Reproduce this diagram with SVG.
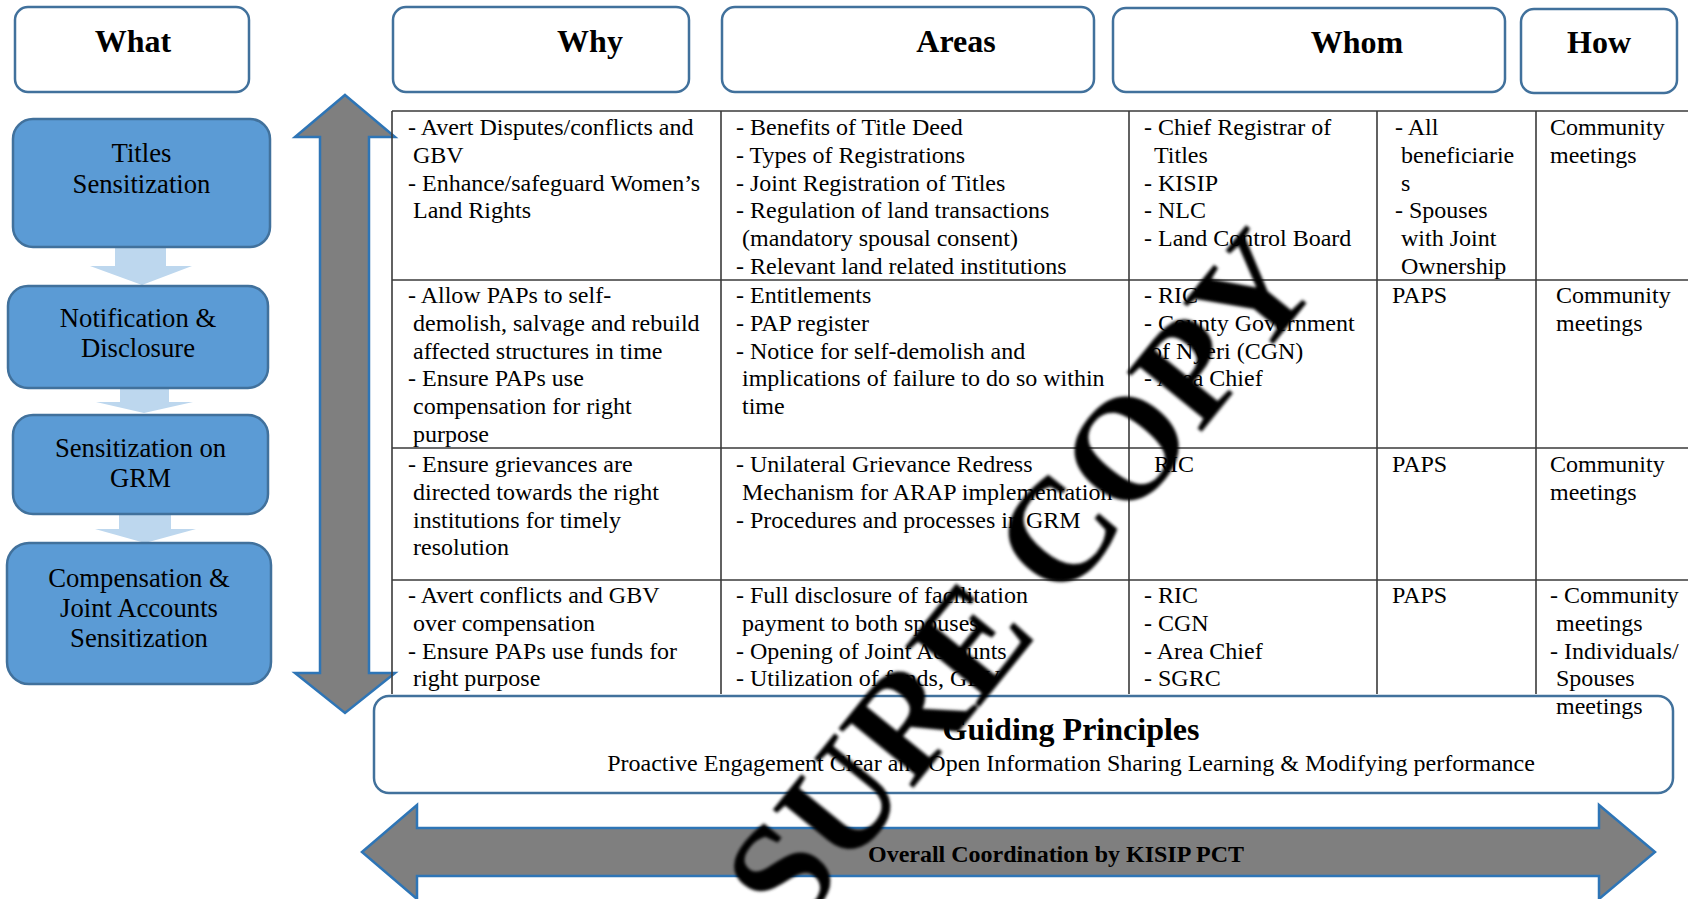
<svg xmlns="http://www.w3.org/2000/svg" width="1688" height="899" viewBox="0 0 1688 899">
  <defs>
    <style>
      .hdr { fill: #ffffff; stroke: #41719C; stroke-width: 2.5; }
      .hdr-t { font-family: "Liberation Serif", "Times New Roman", serif; font-weight: bold; font-size: 32px; fill: #000; text-anchor: middle; }
      .step { fill: #5B9BD5; stroke: #41719C; stroke-width: 2.5; }
      .step-t { font-family: "Liberation Serif", "Times New Roman", serif; font-size: 26.7px; fill: #000; text-anchor: middle; }
      .flow { fill: #BDD7EE; stroke: none; }
      .big { fill: #7F7F7F; stroke: #2E75B6; stroke-width: 2.5; stroke-linejoin: miter; }
      .grid { stroke: #3a3a3a; stroke-width: 1.6; fill: none; }
      .cell { font-family: "Liberation Serif", "Times New Roman", serif; font-size: 24px; fill: #000; }
      .gp-t { font-family: "Liberation Serif", "Times New Roman", serif; font-weight: bold; font-size: 32px; fill: #000; text-anchor: middle; }
      .gp-s { font-family: "Liberation Serif", "Times New Roman", serif; font-size: 24px; fill: #000; text-anchor: middle; }
      .coord { font-family: "Liberation Serif", "Times New Roman", serif; font-weight: bold; font-size: 24px; fill: #000; text-anchor: middle; }
      .mark { font-family: "Liberation Serif", "Times New Roman", serif; font-weight: bold; font-size: 146px; fill: #000; }
    </style>
    <filter id="soft" x="-10%" y="-10%" width="120%" height="120%">
      <feGaussianBlur stdDeviation="1.4"/>
    </filter>
  </defs>

  <rect width="1688" height="899" fill="#ffffff"/>

  <!-- column headers -->
  <g id="hdr-what">
    <rect class="hdr" x="15" y="7" width="234" height="85" rx="13"/>
    <text class="hdr-t" x="133" y="52">What</text>
  </g>
  <g id="hdr-why">
    <rect class="hdr" x="393" y="7" width="296" height="85" rx="13"/>
    <text class="hdr-t" x="590" y="52">Why</text>
  </g>
  <g id="hdr-areas">
    <rect class="hdr" x="722" y="7" width="372" height="85" rx="13"/>
    <text class="hdr-t" x="956" y="52">Areas</text>
  </g>
  <g id="hdr-whom">
    <rect class="hdr" x="1113" y="8" width="392" height="84" rx="13"/>
    <text class="hdr-t" x="1357" y="53">Whom</text>
  </g>
  <g id="hdr-how">
    <rect class="hdr" x="1521" y="9" width="156" height="84" rx="13"/>
    <text class="hdr-t" x="1599" y="53">How</text>
  </g>

  <!-- connectors: step flow arrows and the two double arrows -->
  <g id="connectors">
    <polygon class="flow" points="115,246 166,246 166,266 192,266 142,285 90,266 115,266"/>
    <polygon class="flow" points="120,388 169,388 169,402 193,402 144,413 96,402 120,402"/>
    <polygon class="flow" points="119,514 171,514 171,529 196,529 145,543 95,529 119,529"/>
    <polygon class="big" points="345,95 395,137 369,137 369,673 395,673 345,713 295,673 320,673 320,137 295,137"/>
    <polygon class="big" points="362,852 417,805 417,828 1599,828 1599,805 1655,852 1599,899 1599,876 417,876 417,899"/>
  </g>

  <!-- process steps -->
  <g id="step-titles">
    <rect class="step" x="13" y="119" width="257" height="128" rx="20"/>
    <text class="step-t" x="141.5" y="162">Titles</text>
    <text class="step-t" x="141.5" y="193">Sensitization</text>
  </g>
  <g id="step-notification">
    <rect class="step" x="8" y="286" width="260" height="102" rx="20"/>
    <text class="step-t" x="138" y="327">Notification &amp;</text>
    <text class="step-t" x="138" y="357">Disclosure</text>
  </g>
  <g id="step-grm">
    <rect class="step" x="13" y="415" width="255" height="99" rx="20"/>
    <text class="step-t" x="140.5" y="457">Sensitization on</text>
    <text class="step-t" x="140.5" y="487">GRM</text>
  </g>
  <g id="step-compensation">
    <rect class="step" x="7" y="543" width="264" height="141" rx="22"/>
    <text class="step-t" x="139" y="587">Compensation &amp;</text>
    <text class="step-t" x="139" y="617">Joint Accounts</text>
    <text class="step-t" x="139" y="647">Sensitization</text>
  </g>

  <!-- guiding principles banner -->
  <g id="guiding">
    <rect x="374" y="696" width="1299" height="97" rx="15" fill="#ffffff" stroke="#41719C" stroke-width="2.5"/>
    <text class="gp-t" x="1071" y="740">Guiding Principles</text>
    <text class="gp-s" x="1071" y="771">Proactive Engagement Clear and Open Information Sharing Learning &amp; Modifying performance</text>
  </g>

  <!-- activity matrix -->
  <g id="table">
    <g class="grid">
      <line x1="392" y1="111" x2="1688" y2="111"/>
      <line x1="392" y1="280" x2="1688" y2="280"/>
      <line x1="392" y1="448" x2="1688" y2="448"/>
      <line x1="392" y1="580" x2="1688" y2="580"/>
      <line x1="392" y1="111" x2="392" y2="694"/>
      <line x1="721" y1="111" x2="721" y2="694"/>
      <line x1="1129" y1="111" x2="1129" y2="694"/>
      <line x1="1377" y1="111" x2="1377" y2="694"/>
      <line x1="1536" y1="111" x2="1536" y2="694"/>
    </g>

    <!-- row 1 -->
    <text class="cell" y="135">
      <tspan x="408">- Avert Disputes/conflicts and</tspan>
      <tspan x="413" dy="27.8">GBV</tspan>
      <tspan x="408" dy="27.8">- Enhance/safeguard Women’s</tspan>
      <tspan x="413" dy="27.8">Land Rights</tspan>
    </text>
    <text class="cell" y="135">
      <tspan x="736">- Benefits of Title Deed</tspan>
      <tspan x="736" dy="27.8">- Types of Registrations</tspan>
      <tspan x="736" dy="27.8">- Joint Registration of Titles</tspan>
      <tspan x="736" dy="27.8">- Regulation of land transactions</tspan>
      <tspan x="742" dy="27.8">(mandatory spousal consent)</tspan>
      <tspan x="736" dy="27.8">- Relevant land related institutions</tspan>
    </text>
    <text class="cell" y="135">
      <tspan x="1144">- Chief Registrar of</tspan>
      <tspan x="1154" dy="27.8">Titles</tspan>
      <tspan x="1144" dy="27.8">- KISIP</tspan>
      <tspan x="1144" dy="27.8">- NLC</tspan>
      <tspan x="1144" dy="27.8">- Land Control Board</tspan>
    </text>
    <text class="cell" y="135">
      <tspan x="1395">- All</tspan>
      <tspan x="1401" dy="27.8">beneficiarie</tspan>
      <tspan x="1401" dy="27.8">s</tspan>
      <tspan x="1395" dy="27.8">- Spouses</tspan>
      <tspan x="1401" dy="27.8">with Joint</tspan>
      <tspan x="1401" dy="27.8">Ownership</tspan>
    </text>
    <text class="cell" y="135">
      <tspan x="1550">Community</tspan>
      <tspan x="1550" dy="27.8">meetings</tspan>
    </text>

    <!-- row 2 -->
    <text class="cell" y="303">
      <tspan x="408">- Allow PAPs to self-</tspan>
      <tspan x="413" dy="27.8">demolish, salvage and rebuild</tspan>
      <tspan x="413" dy="27.8">affected structures in time</tspan>
      <tspan x="408" dy="27.8">- Ensure PAPs use</tspan>
      <tspan x="413" dy="27.8">compensation for right</tspan>
      <tspan x="413" dy="27.8">purpose</tspan>
    </text>
    <text class="cell" y="303">
      <tspan x="736">- Entitlements</tspan>
      <tspan x="736" dy="27.8">- PAP register</tspan>
      <tspan x="736" dy="27.8">- Notice for self-demolish and</tspan>
      <tspan x="742" dy="27.8">implications of failure to do so within</tspan>
      <tspan x="742" dy="27.8">time</tspan>
    </text>
    <text class="cell" y="303">
      <tspan x="1144">- RIC</tspan>
      <tspan x="1144" dy="27.8">- County Government</tspan>
      <tspan x="1150" dy="27.8">of Nyeri (CGN)</tspan>
      <tspan x="1144" dy="27.8">- Area Chief</tspan>
    </text>
    <text class="cell" x="1392" y="303">PAPS</text>
    <text class="cell" y="303">
      <tspan x="1556">Community</tspan>
      <tspan x="1556" dy="27.8">meetings</tspan>
    </text>

    <!-- row 3 -->
    <text class="cell" y="472">
      <tspan x="408">- Ensure grievances are</tspan>
      <tspan x="413" dy="27.8">directed towards the right</tspan>
      <tspan x="413" dy="27.8">institutions for timely</tspan>
      <tspan x="413" dy="27.8">resolution</tspan>
    </text>
    <text class="cell" y="472">
      <tspan x="736">- Unilateral Grievance Redress</tspan>
      <tspan x="742" dy="27.8">Mechanism for ARAP implementation</tspan>
      <tspan x="736" dy="27.8">- Procedures and processes in GRM</tspan>
    </text>
    <text class="cell" x="1154" y="472">RIC</text>
    <text class="cell" x="1392" y="472">PAPS</text>
    <text class="cell" y="472">
      <tspan x="1550">Community</tspan>
      <tspan x="1550" dy="27.8">meetings</tspan>
    </text>

    <!-- row 4 -->
    <text class="cell" y="603">
      <tspan x="408">- Avert conflicts and GBV</tspan>
      <tspan x="413" dy="27.8">over compensation</tspan>
      <tspan x="408" dy="27.8">- Ensure PAPs use funds for</tspan>
      <tspan x="413" dy="27.8">right purpose</tspan>
    </text>
    <text class="cell" y="603">
      <tspan x="736">- Full disclosure of facilitation</tspan>
      <tspan x="742" dy="27.8">payment to both spouses</tspan>
      <tspan x="736" dy="27.8">- Opening of Joint Accounts</tspan>
      <tspan x="736" dy="27.8">- Utilization of funds, GBV</tspan>
    </text>
    <text class="cell" y="603">
      <tspan x="1144">- RIC</tspan>
      <tspan x="1144" dy="27.8">- CGN</tspan>
      <tspan x="1144" dy="27.8">- Area Chief</tspan>
      <tspan x="1144" dy="27.8">- SGRC</tspan>
    </text>
    <text class="cell" x="1392" y="603">PAPS</text>
    <text class="cell" y="603">
      <tspan x="1550">- Community</tspan>
      <tspan x="1556" dy="27.8">meetings</tspan>
      <tspan x="1550" dy="27.8">- Individuals/</tspan>
      <tspan x="1556" dy="27.8">Spouses</tspan>
      <tspan x="1556" dy="27.8">meetings</tspan>
    </text>
  </g>

  <!-- coordination label on the horizontal arrow -->
  <text class="coord" x="1056" y="862">Overall Coordination by KISIP PCT</text>

  <!-- diagonal stamp over the sheet -->
  <text class="mark" filter="url(#soft)" transform="translate(794 936) rotate(-51)" x="0" y="0">SURE COPY</text>
</svg>
